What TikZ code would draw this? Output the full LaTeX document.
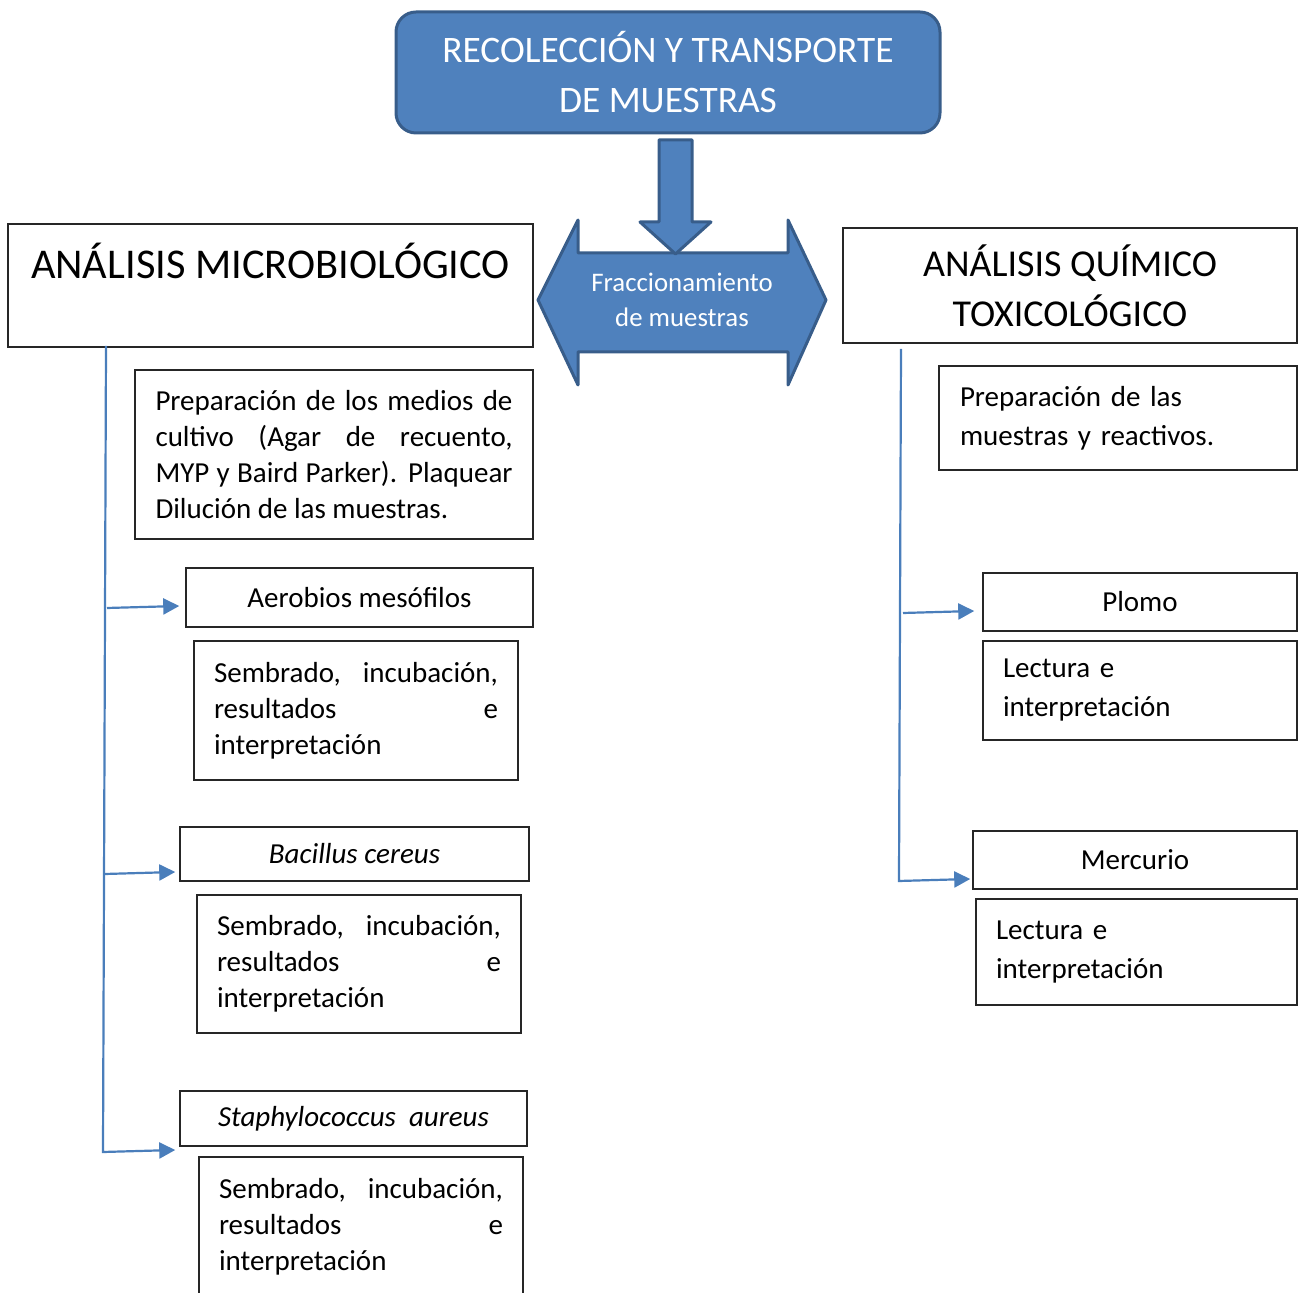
\documentclass[tikz,border=0pt]{standalone}
\usepackage{fontspec}
\setmainfont{Carlito}
\usetikzlibrary{arrows.meta}

\definecolor{azul}{HTML}{4F81BD}
\definecolor{azulborde}{HTML}{385D8A}
\definecolor{linea}{HTML}{4A7EBB}

\newcommand{\cuerpo}{\fontsize{14.5pt}{18pt}\selectfont}
\newcommand{\cuerpoder}{\fontsize{14.5pt}{19.5pt}\selectfont}
\newcommand{\grande}{\fontsize{21.2pt}{25pt}\selectfont}
\newcommand{\grandeder}{\fontsize{19pt}{25pt}\selectfont}
\newcommand{\letratop}{\fontsize{18.7pt}{25pt}\selectfont}
\newcommand{\letrafrac}{\fontsize{13.4pt}{17.5pt}\selectfont}

\tikzset{
  caja/.style={draw=black!85, line width=0.75pt, fill=white, inner sep=0pt, font=\cuerpo},
  cajader/.style={caja, font=\cuerpoder},
  forma/.style={fill=azul, draw=azulborde, line width=1.5pt, line join=round},
  enlace/.style={draw=linea, line width=1.1pt, -{Triangle[length=8pt,width=8pt]}}
}

\begin{document}
\begin{tikzpicture}[x=0.5pt, y=-0.5pt]
    \useasboundingbox (0,0) rectangle (1303,1293);
    % flecha doble y flecha hacia abajo
    \draw[forma] (538,300) -- (578,220) -- (578,253) -- (788,253) -- (788,220) -- (826,300)
        -- (788,385) -- (788,352) -- (578,352) -- (578,385) -- cycle;
    \node[font=\letrafrac, text=white, align=center] (frac) at (682,300) {Fraccionamiento\\de muestras};
    \draw[forma] (659,140) -- (692,140) -- (692,222) -- (711,222) -- (675.5,254) -- (640,222) -- (659,222) -- cycle;
    \node[forma, rounded corners=10pt, text=white, font=\letratop, align=center,
        minimum width=272pt, minimum height=60.5pt] (reco) at (668,72.5) {RECOLECCIÓN Y TRANSPORTE\\DE MUESTRAS};
    % lado izquierdo
    \node[caja, font=\grande, align=center, minimum width=262.5pt, minimum height=61.5pt] (micro) at (270.5,285.5) {ANÁLISIS MICROBIOLÓGICO\\\mbox{}};
    \node[caja, text width=178.5pt, align=justify, minimum width=199pt, minimum height=84.5pt] (prepmic) at (334,454.5)
        {Preparación de los medios de\linebreak cultivo (Agar de recuento,\linebreak MYP y Baird Parker). Plaquear\linebreak Dilución de las muestras.};
    \node[caja, minimum width=173.5pt, minimum height=29.5pt] (aero) at (359.5,597.5) {Aerobios mesófilos};
    \node[caja, text width=142pt, align=justify, minimum width=162pt, minimum height=69.5pt] (semba) at (356,710.5)
        {Sembrado, incubación,\linebreak resultados e\linebreak interpretación};
    \node[caja, minimum width=174.5pt, minimum height=27pt] (baci) at (354.5,854) {\textit{Bacillus cereus}};
    \node[caja, text width=142pt, align=justify, minimum width=162pt, minimum height=69pt] (sembb) at (359,964)
        {Sembrado, incubación,\linebreak resultados e\linebreak interpretación};
    \node[caja, minimum width=173.5pt, minimum height=27.5pt] (staph) at (353.5,1118.5) {\textit{Staphylococcus\ \ aureus}};
    \node[caja, text width=142pt, align=justify, minimum width=162pt, minimum height=70pt] (sembc) at (361,1227)
        {Sembrado, incubación,\linebreak resultados e\linebreak interpretación};
    % lado derecho
    \node[caja, font=\grandeder, align=center, minimum width=227pt, minimum height=57.5pt] (quim) at (1070,285.5) {ANÁLISIS QUÍMICO\\TOXICOLÓGICO};
    \node[cajader, text width=158pt, align=left, minimum width=179pt, minimum height=52pt] (prepqui) at (1118,418)
        {Preparación de las\\muestras y reactivos.};
    \node[caja, minimum width=157pt, minimum height=29pt] (plomo) at (1140,602) {Plomo};
    \node[cajader, text width=137pt, align=left, minimum width=157pt, minimum height=49.5pt] (lecta) at (1140,690.5)
        {Lectura e\\interpretación};
    \node[caja, minimum width=162pt, minimum height=29pt] (merc) at (1135,860) {Mercurio};
    \node[cajader, text width=140.5pt, align=left, minimum width=160.5pt, minimum height=53pt] (lectb) at (1136.5,952)
        {Lectura e\\interpretación};
    % conectores
    \coordinate (izq) at (106,346);
    \coordinate (izqa) at (107,608);
    \coordinate (izqb) at (105,874);
    \coordinate (izqc) at (103,1152);
    \draw[enlace] (izq) -- (izqc) -- ([shift={(-4,31.5)}]staph.west);
    \draw[enlace] (izqa) -- ([shift={(-6,8.5)}]aero.west);
    \draw[enlace] (izqb) -- ([shift={(-4,18)}]baci.west);
    \coordinate (der) at (901,349);
    \coordinate (dera) at (903,613);
    \coordinate (derb) at (899,881);
    \draw[enlace] (der) -- (derb) -- ([shift={(-2,19)}]merc.west);
    \draw[enlace] (dera) -- ([shift={(-8,9)}]plomo.west);
\end{tikzpicture}
\end{document}
